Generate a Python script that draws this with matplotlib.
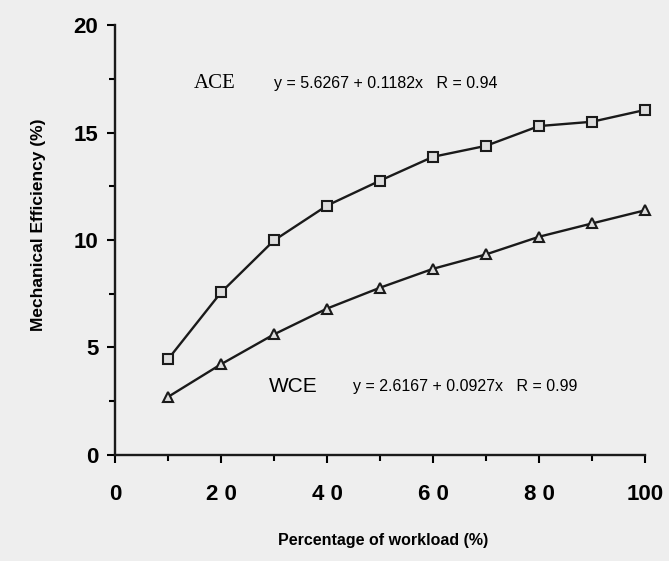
import matplotlib
matplotlib.use("Agg")
import matplotlib.pyplot as plt
from matplotlib.ticker import MultipleLocator

workload = [10, 20, 30, 40, 50, 60, 70, 80, 90, 100]
ace = [4.45, 7.56, 9.98, 11.6, 12.76, 13.87, 14.38, 15.3, 15.5, 16.05]
wce = [2.7, 4.22, 5.61, 6.81, 7.78, 8.66, 9.33, 10.15, 10.77, 11.38]

x_ticks = [0, 20, 40, 60, 80, 100]
x_ticklabels = ["0", "2 0", "4 0", "6 0", "8 0", "100"]
y_ticks = [0, 5, 10, 15, 20]
y_ticklabels = ["0", "5", "10", "15", "20"]

bg = "#eeeeee"
fig = plt.figure(figsize=(6.69, 5.61), dpi=100, facecolor=bg)
ax = fig.add_axes([0.1719, 0.189, 0.7922, 0.7664], facecolor=bg)

ax.plot(workload, ace, color="#1a1a1a", lw=1.7, marker="s", ms=7,
        mfc="#dddddd", mec="#1a1a1a", mew=1.5, clip_on=False)
ax.plot(workload, wce, color="#1a1a1a", lw=1.7, marker="^", ms=7.5,
        mfc="#dddddd", mec="#1a1a1a", mew=1.5, clip_on=False)

ax.set_xlim(0, 100)
ax.set_ylim(0, 20)
for s in ["top", "right"]:
    ax.spines[s].set_visible(False)
for s in ["left", "bottom"]:
    ax.spines[s].set_linewidth(1.7)
    ax.spines[s].set_color("#1a1a1a")

ax.set_xticks(x_ticks)
ax.set_xticklabels(x_ticklabels, fontsize=16, family="Liberation Sans", fontweight="bold")
ax.set_yticks(y_ticks)
ax.set_yticklabels(y_ticklabels, fontsize=16, family="Liberation Sans", fontweight="bold")
ax.xaxis.set_minor_locator(MultipleLocator(10))
ax.yaxis.set_minor_locator(MultipleLocator(2.5))
ax.tick_params(axis="x", which="major", direction="out", length=6, width=1.5, pad=15)
ax.tick_params(axis="x", which="minor", direction="out", length=4, width=1.5)
ax.tick_params(axis="y", which="major", direction="out", length=6, width=1.5, pad=6)
ax.tick_params(axis="y", which="minor", direction="out", length=4, width=1.5)

ax.set_xlabel("Percentage of workload (%)", fontsize=11.5, family="Liberation Sans",
              fontweight="bold", va="center")
ax.xaxis.set_label_coords(0.506, -0.198)
ax.set_ylabel("Mechanical Efficiency (%)", fontsize=12.5, family="Liberation Sans",
              fontweight="bold", va="center")
ax.yaxis.set_label_coords(-0.145, 0.535)

ax.text(18.8, 17.3, "ACE", fontsize=15, family="Liberation Serif",
        ha="center", va="center")
ax.text(30, 17.3, "y = 5.6267 + 0.1182x   R = 0.94", fontsize=11.5,
        family="Liberation Sans", ha="left", va="center")
ax.text(33.7, 3.2, "WCE", fontsize=15, family="Liberation Sans",
        ha="center", va="center")
ax.text(45, 3.2, "y = 2.6167 + 0.0927x   R = 0.99", fontsize=11.5,
        family="Liberation Sans", ha="left", va="center")

fig.savefig("out.png", dpi=100, facecolor=bg)
